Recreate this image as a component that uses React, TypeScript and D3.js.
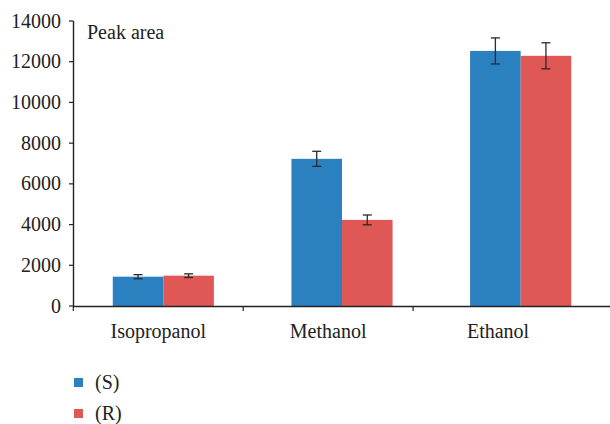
import React from "react";
import * as d3 from "d3";

const categories = ["Isopropanol", "Methanol", "Ethanol"];
const seriesNames = ["(S)", "(R)"];
const sValues = [1440, 7230, 12530];
const sErrors = [100, 370, 640];
const rValues = [1490, 4230, 12290];
const rErrors = [90, 240, 640];
const yTicks = [0, 2000, 4000, 6000, 8000, 10000, 12000, 14000];
const colors = ["#2b80c0", "#e05856"];

const W = 610;
const H = 424;

export default function App() {
  const y = d3.scaleLinear().domain([0, 14000]).range([306, 21]);
  const xBars = d3.scaleBand().domain(categories).range([74, 610]).paddingInner(0.434).paddingOuter(0.217);
  const xSeries = d3.scaleBand().domain(seriesNames).range([0, xBars.bandwidth()]);
  const xTicks = d3.scaleBand().domain(categories).range([73.3, 583]);
  const font = "'Liberation Serif', 'Times New Roman', serif";
  const ts = { fontFamily: font };
  const fs = 20;
  const series = [
    { name: seriesNames[0], values: sValues, errors: sErrors, color: colors[0] },
    { name: seriesNames[1], values: rValues, errors: rErrors, color: colors[1] },
  ];
  return (
    <svg width={W} height={H} style={{ position: "absolute", left: 0, top: 0 }}>
      {series.map((s) =>
        categories.map((c, i) => (
          <rect
            key={s.name + c}
            x={(xBars(c) ?? 0) + (xSeries(s.name) ?? 0)}
            y={y(s.values[i])}
            width={xSeries.bandwidth()}
            height={y(0) - y(s.values[i])}
            fill={s.color}
          />
        ))
      )}
      {series.map((s) =>
        categories.map((c, i) => {
          const cx = (xBars(c) ?? 0) + (xSeries(s.name) ?? 0) + xSeries.bandwidth() / 2;
          const y1 = y(s.values[i] + s.errors[i]);
          const y2 = y(s.values[i] - s.errors[i]);
          return (
            <g key={"e" + s.name + c} stroke="#2a2a2a" strokeWidth={1.3}>
              <line x1={cx} x2={cx} y1={y1} y2={y2} />
              <line x1={cx - 4.5} x2={cx + 4.5} y1={y1} y2={y1} />
              <line x1={cx - 4.5} x2={cx + 4.5} y1={y2} y2={y2} />
            </g>
          );
        })
      )}
      {/* y axis */}
      <line x1={73.5} x2={73.5} y1={y(14000)} y2={y(0)} stroke="#222" strokeWidth={1.4} />
      {yTicks.map((t) => (
        <g key={t}>
          <line x1={69} x2={73.5} y1={y(t)} y2={y(t)} stroke="#222" strokeWidth={1.2} />
          <text x={61} y={y(t)} dy="0.33em" textAnchor="end" fontSize={fs} fill="#222" style={ts}>
            {t}
          </text>
        </g>
      ))}
      {/* x axis */}
      <line x1={73} x2={610} y1={306.5} y2={306.5} stroke="#222" strokeWidth={1.4} />
      {categories.map((c) => (
        <g key={c}>
          <line x1={xTicks(c)} x2={xTicks(c)} y1={306.5} y2={311} stroke="#222" strokeWidth={1.2} />
          <text x={(xTicks(c) ?? 0) + xTicks.bandwidth() / 2} y={338} textAnchor="middle" fontSize={fs} fill="#222" style={ts}>
            {c}
          </text>
        </g>
      ))}
      <text x={87} y={39} fontSize={fs} fill="#222" style={ts}>Peak area</text>
      {/* legend */}
      {series.map((s, i) => (
        <g key={"l" + s.name} transform={`translate(74, ${378 + i * 31})`}>
          <rect x={0} y={0} width={9} height={9} fill={s.color} />
          <text x={21} y={4.5} dy="0.33em" fontSize={fs} fill="#222" style={ts}>{s.name}</text>
        </g>
      ))}
    </svg>
  );
}
